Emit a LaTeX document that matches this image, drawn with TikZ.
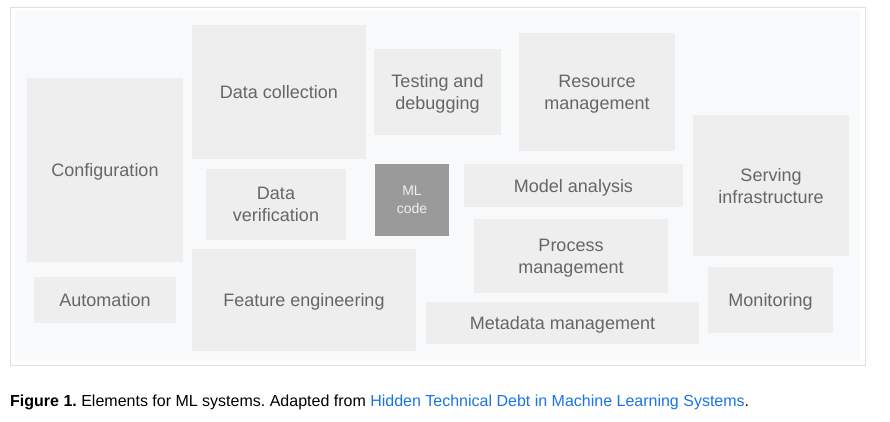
\documentclass[tikz,border=0pt]{standalone}
\usepackage{fontspec}
\setmainfont{Liberation Sans}
\usepackage{tikz}
\definecolor{boxgray}{HTML}{EEEEEE}
\definecolor{panelgray}{HTML}{F8F9FA}
\definecolor{framegray}{HTML}{E0E0E0}
\definecolor{labelgray}{HTML}{666666}
\definecolor{mlgray}{HTML}{9A9A9A}
\definecolor{linkblue}{HTML}{1A73E8}
\frenchspacing

\begin{document}
\begin{tikzpicture}[x=1pt,y=-1pt,
  elem/.style={fill=boxgray,inner sep=0pt,align=center,text=labelgray,
    text depth=0pt,font=\fontsize{18}{22}\selectfont},
  core/.style={fill=mlgray,inner sep=0pt,align=center,text=white!94!black,
    text depth=0pt,font=\fontsize{14}{18}\selectfont}]

\useasboundingbox (0,0) rectangle (890,421);
\draw[framegray,fill=white] (10,7) rectangle (865,365);
\fill[panelgray] (15,11) rectangle (860,361);

\node[elem,minimum width=156pt,minimum height=184pt] (conf) at (105,170) {Configuration};
\node[elem,minimum width=174pt,minimum height=134pt] (datacoll) at (279,92) {Data collection};
\node[elem,minimum width=127pt,minimum height=86pt] (testing) at (437.5,92) {Testing and\\debugging};
\node[elem,minimum width=156pt,minimum height=118pt] (resource) at (597,92) {Resource\\management};
\node[elem,minimum width=156pt,minimum height=141pt] (serving) at (771,185.5) {Serving\\infrastructure};
\node[elem,minimum width=140pt,minimum height=71pt] (dataver) at (276,204.5) {Data\\verification};
\node[core,minimum width=74pt,minimum height=72pt] (mlcode) at (412,200) {ML\\code};
\node[elem,minimum width=219pt,minimum height=43pt] (model) at (573.5,185.5) {Model analysis};
\node[elem,minimum width=194pt,minimum height=74pt] (process) at (571,256) {Process\\management};
\node[elem,minimum width=142pt,minimum height=46pt] (autom) at (105,300) {Automation};
\node[elem,minimum width=224pt,minimum height=102pt] (feature) at (304,300) {Feature engineering};
\node[elem,minimum width=273pt,minimum height=42pt] (metadata) at (562.5,323) {Metadata management};
\node[elem,minimum width=125pt,minimum height=66pt] (monitor) at (770.5,300) {Monitoring};

\node[anchor=base west,inner sep=0pt,font=\fontsize{16}{19}\selectfont] (caption) at (10,406)
  {\textbf{Figure 1.} Elements for ML systems. Adapted from \textcolor{linkblue}{Hidden Technical Debt in Machine Learning Systems}.};

\end{tikzpicture}
\end{document}
